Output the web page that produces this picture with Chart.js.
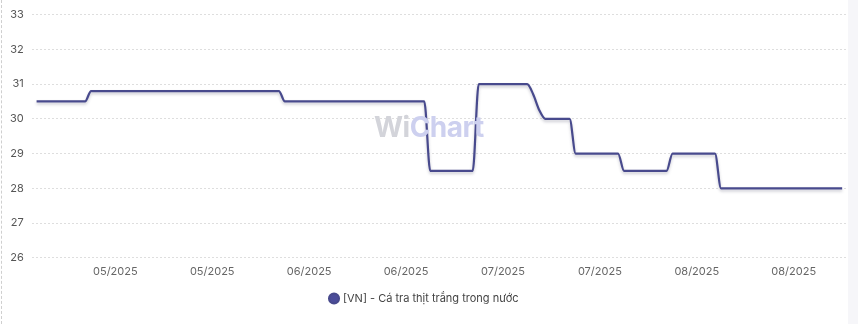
<!DOCTYPE html>
<html>
<head>
<meta charset="utf-8">
<script src="https://cdn.jsdelivr.net/npm/chart.js@4.4.1/dist/chart.umd.min.js"></script>
<style>
  html, body { margin: 0; padding: 0; background: #f6f6f9; }
  #wrap { position: absolute; left: 0; top: 0; width: 848px; height: 324px; background: #fff; }
  #edge { position: absolute; left: 1px; top: 0; width: 0; height: 324px; border-left: 1px dashed #cfcfcf; }
  #mark { position: absolute; left: 374px; top: 110px; font: 700 28px Inter, sans-serif; letter-spacing: -0.5px; }
  #mark .w { color: #d3d4da; }
  #mark .c { color: #cdd0ef; }
</style>
</head>
<body>
<div id="wrap">
  <canvas id="priceChart" width="848" height="324"></canvas>
  <div id="mark"><span class="w">Wi</span><span class="c">Chart</span></div>
  <div id="edge"></div>
</div>
<script>
// Daily price series, 18/04/2025 -> 29/08/2025 (index = day number)
const seriesName = '[VN] - Cá tra thịt trắng trong nước';
const prices = [
    30.5, 30.5, 30.5, 30.5, 30.5, 30.5, 30.5, 30.5, 30.5,
    30.8, 30.8, 30.8, 30.8, 30.8, 30.8, 30.8, 30.8, 30.8, 30.8,
    30.8, 30.8, 30.8, 30.8, 30.8, 30.8, 30.8, 30.8, 30.8, 30.8,
    30.8, 30.8, 30.8, 30.8, 30.8, 30.8, 30.8, 30.8, 30.8, 30.8,
    30.8, 30.8,
    30.5, 30.5, 30.5, 30.5, 30.5, 30.5, 30.5, 30.5, 30.5, 30.5,
    30.5, 30.5, 30.5, 30.5, 30.5, 30.5, 30.5, 30.5, 30.5, 30.5,
    30.5, 30.5, 30.5, 30.5,
    28.5, 28.5, 28.5, 28.5, 28.5, 28.5, 28.5, 28.5,
    31, 31, 31, 31, 31, 31, 31, 31, 31,
    30.7, 30.25,
    30, 30, 30, 30, 30,
    29, 29, 29, 29, 29, 29, 29, 29,
    28.5, 28.5, 28.5, 28.5, 28.5, 28.5, 28.5, 28.5,
    29, 29, 29, 29, 29, 29, 29, 29,
    28, 28, 28, 28, 28, 28, 28, 28, 28, 28,
    28, 28, 28, 28, 28, 28, 28, 28, 28, 28, 28
];

// x-axis tick positions (day index) and their labels
const tickDays = [13, 29, 45, 61, 77, 93, 109, 125];
const tickLabels = ['05/2025', '05/2025', '06/2025', '06/2025', '07/2025', '07/2025', '08/2025', '08/2025'];

const lineColor = '#484a8d';

// soft shadow under the line
const lineShadow = {
    id: 'lineShadow',
    beforeDatasetDraw(chart) {
        const ctx = chart.ctx;
        ctx.save();
        ctx.shadowColor = 'rgba(60, 60, 90, 0.28)';
        ctx.shadowBlur = 3;
        ctx.shadowOffsetY = 2;
    },
    afterDatasetDraw(chart) {
        chart.ctx.restore();
    }
};

const ctx = document.getElementById('priceChart');

new Chart(ctx, {
    type: 'line',
    data: {
        datasets: [{
            label: seriesName,
            data: prices.map((v, i) => ({ x: i, y: v })),
            borderColor: lineColor,
            backgroundColor: '#4b4c9a',
            borderWidth: 2.2,
            pointRadius: 0,
            pointHoverRadius: 0,
            fill: false,
            cubicInterpolationMode: 'monotone'
        }]
    },
    options: {
        responsive: false,
        animation: false,
        layout: {
            padding: { left: 2, right: 1, top: 4, bottom: 10 }
        },
        plugins: {
            legend: {
                position: 'bottom',
                labels: {
                    usePointStyle: true,
                    pointStyle: 'circle',
                    boxWidth: 7,
                    boxHeight: 7,
                    padding: 8,
                    color: '#444',
                    font: { family: 'Inter', size: 11 }
                }
            },
            tooltip: { enabled: false }
        },
        scales: {
            x: {
                type: 'linear',
                min: -0.8,
                max: prices.length - 1 + 0.8,
                afterBuildTicks: function(scale) {
                    scale.ticks = tickDays.map(d => ({ value: d }));
                },
                border: { display: false },
                grid: { display: false, drawTicks: false },
                ticks: {
                    autoSkip: false,
                    maxRotation: 0,
                    padding: 7,
                    color: '#666',
                    font: { family: 'Inter', size: 11 },
                    callback: function(value, index) {
                        return tickLabels[index];
                    }
                }
            },
            y: {
                min: 26,
                max: 33,
                border: { display: false, dash: [2, 2] },
                grid: {
                    color: '#dedede',
                    lineWidth: 1,
                    drawTicks: false
                },
                ticks: {
                    stepSize: 1,
                    padding: 8,
                    color: '#555',
                    font: { family: 'Inter', size: 11 }
                }
            }
        }
    },
    plugins: [lineShadow]
});
</script>
</body>
</html>
